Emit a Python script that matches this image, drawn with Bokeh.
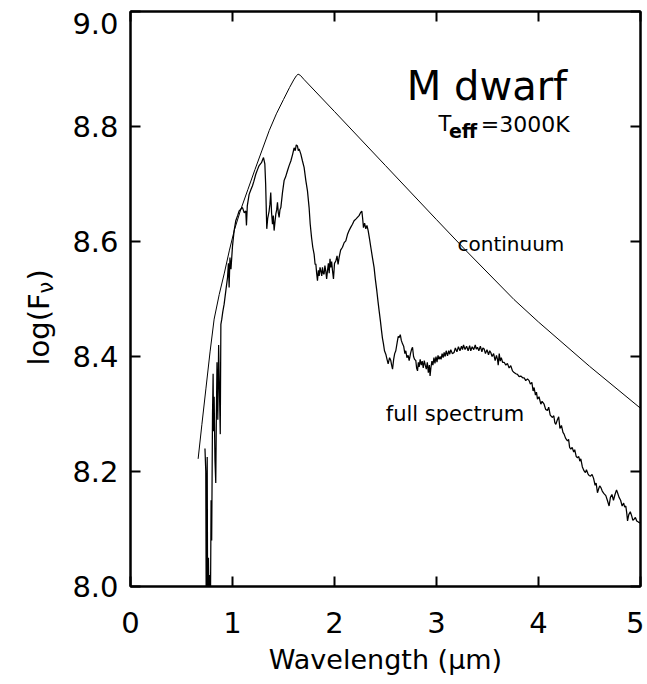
import numpy as np
from bokeh.plotting import figure
from bokeh.layouts import row
from bokeh.models import Range1d, LinearAxis, FixedTicker, Label, CustomJSTickFormatter
from bokeh.core.properties import value
from bokeh.embed import file_html
from bokeh.resources import INLINE

# ---------------- data ----------------
x_ticks = [0, 1, 2, 3, 4, 5]
y_ticks = [8.0, 8.2, 8.4, 8.6, 8.8, 9.0]
y_tick_labels = ["8.0", "8.2", "8.4", "8.6", "8.8", "9.0"]

cont_x = [0.663, 0.700, 0.740, 0.780, 0.820, 0.870, 0.920, 0.970, 1.020, 1.080,
          1.150, 1.220, 1.290, 1.360, 1.430, 1.500, 1.560, 1.600, 1.625, 1.643,
          1.665, 1.700, 2.000, 2.500, 3.000, 3.290, 3.760, 4.000, 4.500, 5.000]
cont_y = [8.222, 8.282, 8.345, 8.408, 8.465, 8.508, 8.545, 8.585, 8.621, 8.655,
          8.690, 8.725, 8.759, 8.793, 8.822, 8.847, 8.868, 8.881, 8.888, 8.891,
          8.889, 8.882, 8.826, 8.732, 8.638, 8.584, 8.499, 8.460, 8.383, 8.310]

spec_x = [0.730, 0.738, 0.742, 0.748, 0.752, 0.756, 0.764, 0.770, 0.778, 0.784,
          0.790, 0.796, 0.804, 0.810, 0.814, 0.820, 0.828, 0.836, 0.842, 0.848,
          0.856, 0.864, 0.872, 0.880, 0.886, 0.895, 0.905, 0.918, 0.935, 0.951,
          0.960, 0.967, 0.975, 0.985, 1.000, 1.016, 1.032, 1.050, 1.065, 1.080,
          1.098, 1.115, 1.130, 1.137, 1.145, 1.163, 1.180, 1.196, 1.210, 1.228,
          1.245, 1.261, 1.284, 1.295, 1.304, 1.317, 1.325, 1.336, 1.345, 1.359,
          1.367, 1.375, 1.383, 1.392, 1.400, 1.408, 1.417, 1.425, 1.433, 1.441,
          1.449, 1.457, 1.465, 1.474, 1.490, 1.506, 1.520, 1.539, 1.555, 1.572,
          1.590, 1.604, 1.615, 1.625, 1.637, 1.645, 1.653, 1.670, 1.686, 1.702,
          1.719, 1.735, 1.751, 1.762, 1.775, 1.787, 1.800, 1.810, 1.817, 1.825,
          1.833, 1.842, 1.850, 1.858, 1.866, 1.875, 1.882, 1.890, 1.898, 1.906,
          1.915, 1.923, 1.931, 1.940, 1.948, 1.956, 1.964, 1.972, 1.980, 1.990,
          2.000, 2.013, 2.025, 2.035, 2.045, 2.060, 2.078, 2.095, 2.111, 2.127,
          2.143, 2.160, 2.176, 2.192, 2.209, 2.225, 2.241, 2.255, 2.268, 2.276,
          2.284, 2.295, 2.307, 2.318, 2.330, 2.343, 2.356, 2.372, 2.388, 2.400,
          2.415, 2.427, 2.438, 2.450, 2.461, 2.470, 2.480, 2.490, 2.503, 2.515,
          2.526, 2.540, 2.552, 2.560, 2.569, 2.580, 2.590, 2.601, 2.615, 2.625,
          2.634, 2.645, 2.655, 2.667, 2.678, 2.690, 2.699, 2.710, 2.722, 2.732,
          2.745, 2.755, 2.765, 2.775, 2.785, 2.797, 2.805, 2.814, 2.822, 2.830,
          2.840, 2.850, 2.860, 2.870, 2.880, 2.890, 2.900, 2.910, 2.920, 2.930,
          2.937, 2.945, 2.955, 2.965, 2.975, 2.985, 2.995, 3.005, 3.015, 3.025,
          3.035, 3.045, 3.055, 3.065, 3.075, 3.085, 3.095, 3.108, 3.120, 3.130,
          3.140, 3.155, 3.172, 3.185, 3.200, 3.215, 3.230, 3.245, 3.255, 3.265,
          3.280, 3.295, 3.310, 3.325, 3.336, 3.350, 3.365, 3.380, 3.390, 3.402,
          3.415, 3.430, 3.445, 3.455, 3.467, 3.480, 3.495, 3.510, 3.522, 3.532,
          3.545, 3.560, 3.575, 3.588, 3.598, 3.605, 3.615, 3.625, 3.635, 3.648,
          3.663, 3.680, 3.695, 3.712, 3.728, 3.745, 3.761, 3.778, 3.794, 3.810,
          3.826, 3.845, 3.859, 3.875, 3.892, 3.908, 3.920, 3.935, 3.947, 3.957,
          3.970, 3.980, 3.990, 4.005, 4.023, 4.035, 4.055, 4.070, 4.088, 4.100,
          4.115, 4.137, 4.150, 4.160, 4.170, 4.185, 4.198, 4.210, 4.225, 4.240,
          4.251, 4.265, 4.284, 4.295, 4.305, 4.317, 4.330, 4.345, 4.355, 4.370,
          4.382, 4.395, 4.405, 4.415, 4.430, 4.447, 4.460, 4.470, 4.485, 4.496,
          4.510, 4.525, 4.540, 4.555, 4.565, 4.578, 4.590, 4.600, 4.612, 4.625,
          4.640, 4.660, 4.675, 4.692, 4.705, 4.720, 4.735, 4.750, 4.765, 4.775,
          4.790, 4.805, 4.820, 4.835, 4.845, 4.856, 4.865, 4.873, 4.885, 4.900,
          4.915, 4.925, 4.937, 4.950, 4.963, 4.980, 5.000]
spec_y = [8.240, 8.200, 7.970, 8.150, 8.225, 7.970, 8.050, 7.970, 8.020, 7.970,
          8.150, 8.080, 8.300, 8.370, 8.270, 8.330, 8.220, 8.180, 8.300, 8.390,
          8.290, 8.420, 8.340, 8.265, 8.456, 8.465, 8.478, 8.491, 8.515, 8.537,
          8.562, 8.520, 8.572, 8.552, 8.592, 8.619, 8.636, 8.645, 8.653, 8.656,
          8.659, 8.650, 8.653, 8.628, 8.662, 8.682, 8.690, 8.697, 8.705, 8.717,
          8.725, 8.732, 8.737, 8.742, 8.746, 8.735, 8.700, 8.622, 8.640, 8.653,
          8.665, 8.685, 8.650, 8.630, 8.645, 8.619, 8.635, 8.648, 8.655, 8.668,
          8.650, 8.642, 8.655, 8.659, 8.685, 8.706, 8.712, 8.723, 8.732, 8.740,
          8.752, 8.763, 8.758, 8.768, 8.766, 8.758, 8.761, 8.752, 8.740, 8.729,
          8.706, 8.688, 8.659, 8.630, 8.607, 8.590, 8.578, 8.560, 8.561, 8.545,
          8.532, 8.550, 8.540, 8.555, 8.549, 8.540, 8.555, 8.545, 8.543, 8.558,
          8.548, 8.535, 8.549, 8.562, 8.545, 8.570, 8.555, 8.565, 8.550, 8.535,
          8.562, 8.566, 8.575, 8.560, 8.572, 8.585, 8.590, 8.598, 8.601, 8.612,
          8.619, 8.625, 8.630, 8.636, 8.639, 8.642, 8.645, 8.650, 8.653, 8.640,
          8.624, 8.632, 8.622, 8.628, 8.619, 8.605, 8.590, 8.572, 8.555, 8.535,
          8.514, 8.495, 8.479, 8.462, 8.445, 8.432, 8.422, 8.410, 8.404, 8.395,
          8.387, 8.398, 8.393, 8.385, 8.378, 8.395, 8.405, 8.410, 8.425, 8.435,
          8.433, 8.438, 8.428, 8.422, 8.418, 8.405, 8.410, 8.398, 8.402, 8.393,
          8.405, 8.412, 8.416, 8.400, 8.395, 8.393, 8.380, 8.375, 8.390, 8.382,
          8.395, 8.385, 8.392, 8.380, 8.393, 8.385, 8.378, 8.390, 8.372, 8.385,
          8.366, 8.380, 8.392, 8.385, 8.398, 8.388, 8.400, 8.390, 8.402, 8.395,
          8.400, 8.395, 8.405, 8.398, 8.407, 8.400, 8.410, 8.401, 8.410, 8.404,
          8.412, 8.405, 8.407, 8.415, 8.408, 8.417, 8.410, 8.418, 8.412, 8.420,
          8.412, 8.418, 8.410, 8.419, 8.410, 8.417, 8.412, 8.420, 8.413, 8.416,
          8.410, 8.418, 8.408, 8.415, 8.413, 8.405, 8.412, 8.403, 8.410, 8.407,
          8.400, 8.405, 8.393, 8.402, 8.395, 8.385, 8.405, 8.392, 8.398, 8.390,
          8.390, 8.385, 8.388, 8.380, 8.384, 8.375, 8.372, 8.370, 8.369, 8.365,
          8.366, 8.363, 8.363, 8.358, 8.361, 8.358, 8.352, 8.355, 8.340, 8.346,
          8.333, 8.338, 8.326, 8.330, 8.317, 8.322, 8.317, 8.308, 8.306, 8.312,
          8.298, 8.294, 8.297, 8.285, 8.282, 8.290, 8.295, 8.275, 8.280, 8.268,
          8.265, 8.258, 8.253, 8.256, 8.242, 8.239, 8.242, 8.234, 8.238, 8.226,
          8.224, 8.226, 8.218, 8.222, 8.208, 8.201, 8.198, 8.203, 8.196, 8.193,
          8.192, 8.195, 8.188, 8.176, 8.180, 8.163, 8.170, 8.175, 8.172, 8.166,
          8.162, 8.158, 8.150, 8.140, 8.155, 8.160, 8.150, 8.160, 8.168, 8.163,
          8.155, 8.150, 8.140, 8.145, 8.138, 8.140, 8.128, 8.114, 8.125, 8.130,
          8.122, 8.115, 8.117, 8.120, 8.114, 8.112, 8.110]

FONT = "DejaVu Sans"
FRAME_W = 510
FRAME_H = 575
TOTAL_H = 681
LEFT_W = 56          # width of the strip holding the rotated y-axis title
Y0, Y1 = 8.0, 9.0

# ---------------- main figure ----------------
p = figure(frame_width=FRAME_W, frame_height=FRAME_H,
           x_range=Range1d(0, 5), y_range=Range1d(Y0, Y1),
           min_border_left=130 - LEFT_W, min_border_right=4, min_border_top=11,
           min_border_bottom=TOTAL_H - 11 - FRAME_H,
           output_backend="svg", toolbar_location=None,
           background_fill_color="white", border_fill_color="white")
p.grid.visible = False
p.outline_line_color = "black"
p.outline_line_width = 2


def style_axis(ax, ticks, labelled=True):
    ax.ticker = FixedTicker(ticks=ticks)
    ax.major_tick_in = 10
    ax.major_tick_out = 0
    ax.minor_tick_line_color = None
    ax.axis_line_width = 2
    ax.axis_line_color = "black"
    ax.major_tick_line_width = 2
    ax.major_tick_line_color = "black"
    ax.major_label_text_font = FONT
    ax.major_label_text_color = "black"
    if not labelled:
        ax.formatter = CustomJSTickFormatter(code="return ''")
        ax.major_label_standoff = 0
        ax.major_label_text_font_size = "1px"


xa = p.xaxis[0]
style_axis(xa, x_ticks)
xa.major_label_text_font_size = "29px"
xa.major_label_standoff = 25
xa.axis_label = "Wavelength (\u03bcm)"
xa.axis_label_text_font = FONT
xa.axis_label_text_font_size = "27px"
xa.axis_label_text_font_style = "normal"
xa.axis_label_text_color = "black"
xa.axis_label_standoff = 8

# left axis: ticks only
ya = p.yaxis[0]
style_axis(ya, y_ticks, labelled=False)

# left label axis: carries the tick labels; the top one sits 12 px lower, as in the original
shift = 12 * (Y1 - Y0) / FRAME_H
label_pos = y_ticks[:-1] + [y_ticks[-1] - shift]
la = LinearAxis(ticker=FixedTicker(ticks=label_pos))
la.formatter = CustomJSTickFormatter(args=dict(pos=label_pos, labs=y_tick_labels), code="""
    for (let i = 0; i < pos.length; i++) { if (Math.abs(tick - pos[i]) < 1e-6) return labs[i]; }
    return '';
""")
la.major_tick_line_color = None
la.minor_tick_line_color = None
la.axis_line_color = None
la.major_tick_in = 0
la.major_tick_out = 0
la.major_label_standoff = 12
la.major_label_text_font = FONT
la.major_label_text_font_size = "29px"
la.major_label_text_color = "black"
p.add_layout(la, "left")

ra = LinearAxis()
style_axis(ra, y_ticks, labelled=False)
p.add_layout(ra, "right")

ta = LinearAxis()
style_axis(ta, x_ticks, labelled=False)
p.add_layout(ta, "above")

# ---------------- curves ----------------
p.line(cont_x, cont_y, line_color="black", line_width=1)
p.line(spec_x, spec_y, line_color="black", line_width=1.25)


# ---------------- texts inside the frame ----------------
def lab(x, y, text, size, style="normal"):
    p.add_layout(Label(x=x, y=y, text=text, text_font=FONT, text_font_size=size,
                       text_font_style=style, text_color="black",
                       text_align="left", text_baseline="alphabetic"))


lab(2.709, 8.8696, "M dwarf", "40px")
lab(3.020, 8.804, "T", "21px")
lab(3.122, 8.7925, "eff", "19px", style="bold")
lab(3.435, 8.804, "=3000K", "22px")
lab(3.206, 8.5965, "continuum", "20px")
lab(2.503, 8.2998, "full spectrum", "21px")

# ---------------- strip with the rotated y-axis title: log(F_nu) ----------------
t = figure(frame_width=LEFT_W, frame_height=TOTAL_H,
           x_range=Range1d(0, LEFT_W), y_range=Range1d(0, TOTAL_H),
           min_border_left=0, min_border_right=0, min_border_top=0, min_border_bottom=0,
           x_axis_location=None, y_axis_location=None,
           output_backend="svg", toolbar_location=None,
           background_fill_color="white", border_fill_color="white")
t.grid.visible = False
t.outline_line_color = None

title_parts = ["log(F", "\u03bd", ")"]
part_x = [38, 45, 38]            # baselines (px)
part_y = [327, 399, 412]         # start of each part, from the bottom (px)
part_size = ["29px", "21px", "29px"]
for txt, xx, yy, sz in zip(title_parts, part_x, part_y, part_size):
    t.text(x=[xx], y=[yy], text=[txt], angle=np.pi / 2, text_font=value(FONT),
           text_font_size=sz, text_color="black", text_align="left",
           text_baseline="alphabetic")

layout = row(t, p, spacing=0)
open("out.html", "w").write(file_html(layout, INLINE))
